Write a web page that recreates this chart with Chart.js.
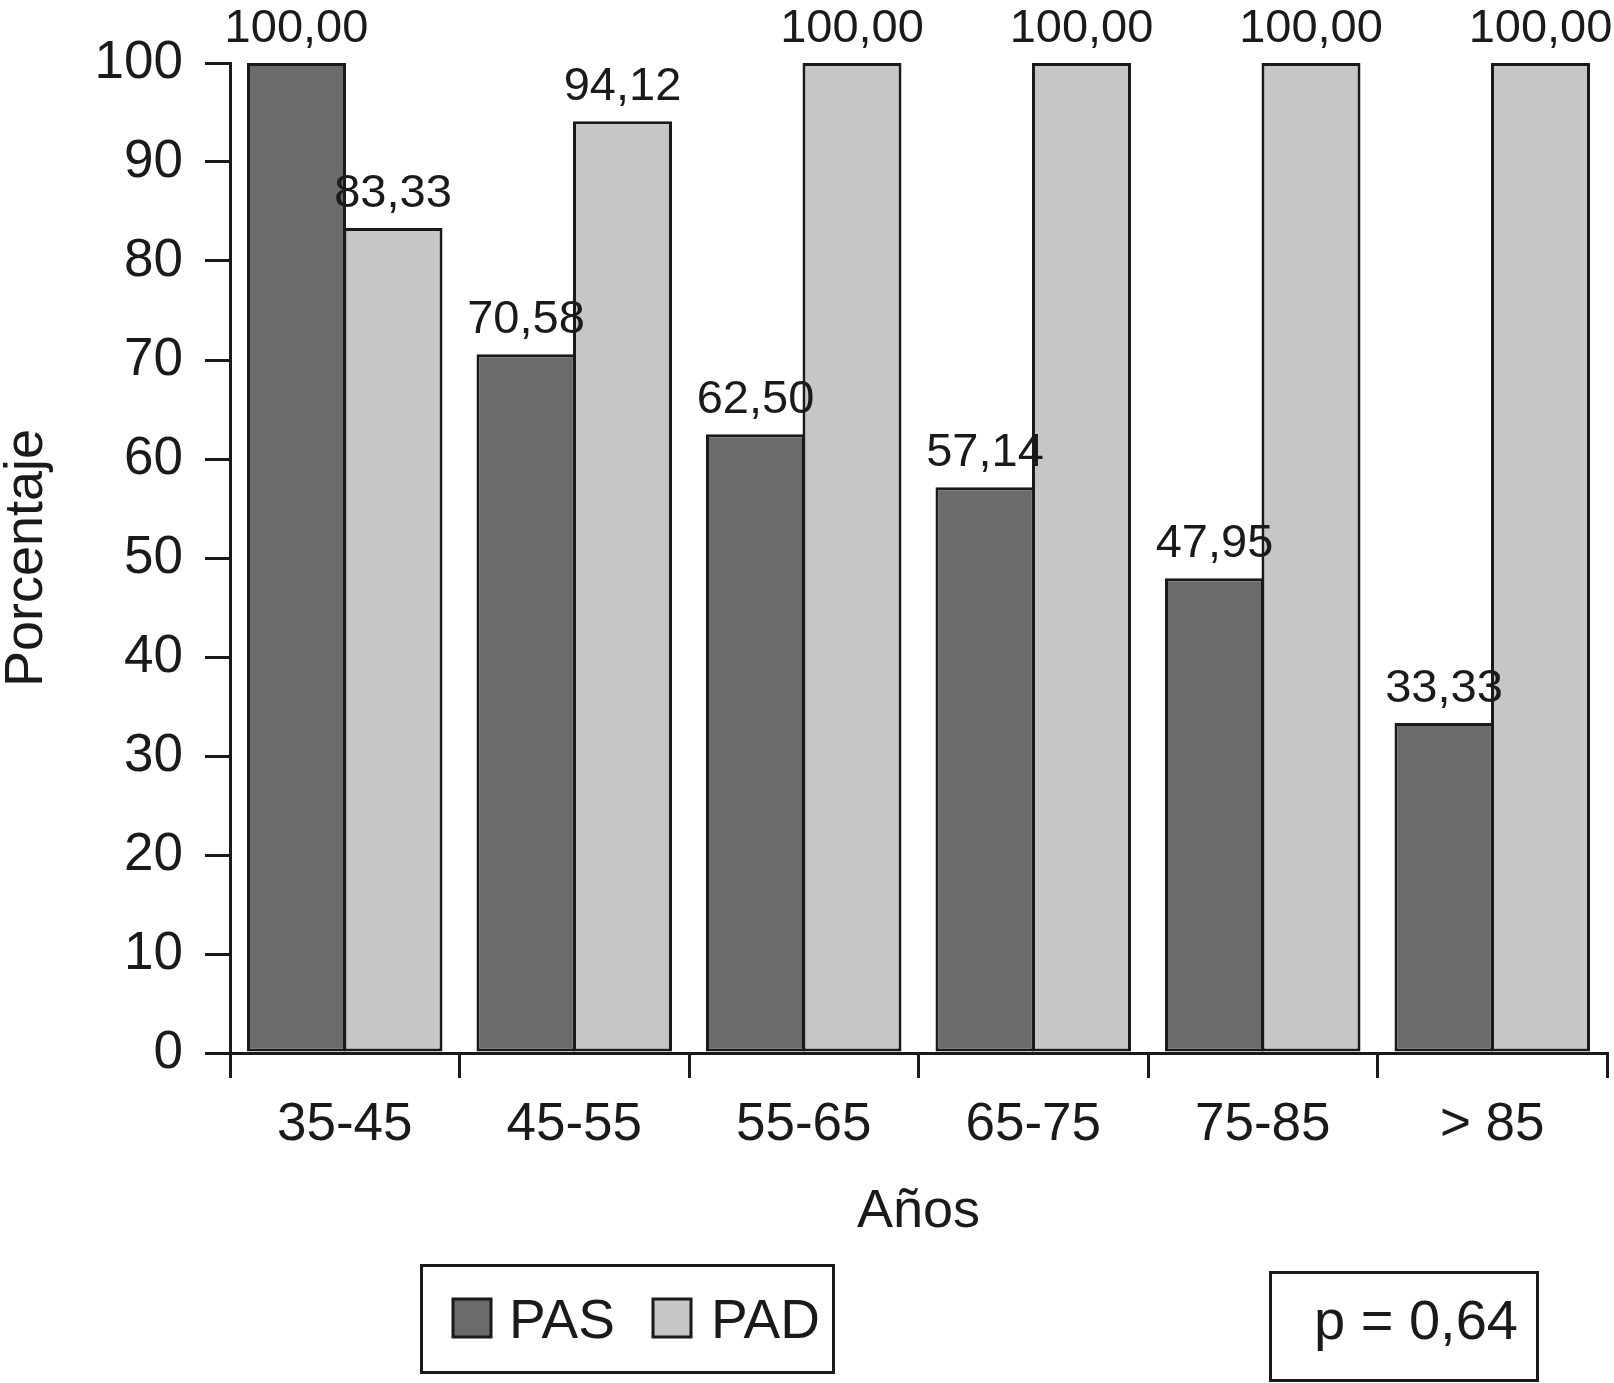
<!DOCTYPE html>
<html>
<head>
<meta charset="utf-8">
<script src="https://cdn.jsdelivr.net/npm/chart.js@4"></script>
<style>
  html, body { margin: 0; padding: 0; background: #ffffff; }
  #wrap { width: 1614px; height: 1383px; position: relative; }
  canvas { display: block; }
</style>
</head>
<body>
<div id="wrap"><canvas id="c" width="1614" height="1383"></canvas></div>
<script>
const categories = ['35-45', '45-55', '55-65', '65-75', '75-85', '> 85'];
const pasValues = [100.00, 70.58, 62.50, 57.14, 47.95, 33.33];
const padValues = [83.33, 94.12, 100.00, 100.00, 100.00, 100.00];
const seriesNames = ['PAS', 'PAD'];
const pValueText = 'p = 0,64';
const xTitle = 'Años';
const yTitle = 'Porcentaje';

const INK = '#1a1a1a';
const FONT = '"Liberation Sans", Arial, Helvetica, sans-serif';

const labelsPlugin = {
  id: 'valueLabels',
  afterDatasetsDraw(chart) {
    const ctx = chart.ctx;
    ctx.save();
    ctx.font = '47px ' + FONT;
    ctx.fillStyle = INK;
    ctx.textAlign = 'center';
    ctx.textBaseline = 'alphabetic';
    chart.data.datasets.forEach((ds, di) => {
      const meta = chart.getDatasetMeta(di);
      meta.data.forEach((bar, i) => {
        const v = ds.data[i];
        const txt = v.toFixed(2).replace('.', ',');
        ctx.fillText(txt, bar.x, bar.y - 21);
      });
    });
    ctx.restore();
  }
};

const boxesPlugin = {
  id: 'legendBoxes',
  afterDraw(chart) {
    const ctx = chart.ctx;
    ctx.save();
    ctx.strokeStyle = INK;
    ctx.lineWidth = 3;
    // legend frame
    ctx.strokeRect(421.5, 1265.5, 412, 107);
    const ds = chart.data.datasets;
    const sq = [[453, 1299], [653, 1299]];
    const tx = [509, 711];
    ctx.font = '55px ' + FONT;
    ctx.textBaseline = 'alphabetic';
    ctx.textAlign = 'left';
    ds.forEach((d, i) => {
      ctx.fillStyle = d.backgroundColor;
      ctx.fillRect(sq[i][0], sq[i][1], 38, 38);
      ctx.strokeRect(sq[i][0], sq[i][1], 38, 38);
      ctx.fillStyle = INK;
      ctx.fillText(d.label, tx[i], 1338);
    });
    // p-value frame
    ctx.strokeRect(1270.5, 1272.5, 267, 108);
    ctx.font = '56px ' + FONT;
    ctx.fillStyle = INK;
    ctx.fillText(pValueText, 1314, 1339);
    ctx.restore();
  }
};

new Chart(document.getElementById('c'), {
  type: 'bar',
  data: {
    labels: categories,
    datasets: [
      { label: seriesNames[0], data: pasValues, backgroundColor: '#6b6b6b', borderColor: INK, borderWidth: 3, borderSkipped: false },
      { label: seriesNames[1], data: padValues, backgroundColor: '#c6c6c6', borderColor: INK, borderWidth: 3, borderSkipped: false }
    ]
  },
  options: {
    responsive: false,
    animation: false,
    devicePixelRatio: 1,
    layout: { padding: { left: 0, top: 63, right: 7, bottom: 0 } },
    datasets: { bar: { categoryPercentage: 0.841, barPercentage: 1.026 } },
    plugins: {
      legend: { display: false },
      tooltip: { enabled: false },
      title: { display: false }
    },
    scales: {
      x: {
        offset: true,
        grid: { display: true, drawOnChartArea: false, drawTicks: true, tickLength: 25, color: INK, lineWidth: 3, offset: true },
        border: { display: true, color: INK, width: 3 },
        ticks: { color: INK, font: { family: FONT, size: 53 }, padding: 16, maxRotation: 0, autoSkip: false },
        title: { display: true, text: xTitle, color: INK, font: { family: FONT, size: 54, lineHeight: 1 }, padding: { top: 0, bottom: 144 } },
        afterFit(s) { s.height = 330; }
      },
      y: {
        min: 0,
        max: 100,
        ticks: { stepSize: 10, color: INK, font: { family: FONT, size: 53 }, padding: 22 },
        grid: { display: true, drawOnChartArea: false, drawTicks: true, tickLength: 25, color: INK, lineWidth: 3 },
        border: { display: true, color: INK, width: 3 },
        title: { display: true, text: yTitle, color: INK, font: { family: FONT, size: 54, lineHeight: 1 }, padding: { top: 0, bottom: 0 } },
        afterFit(s) { s.width = 230; }
      }
    }
  },
  plugins: [labelsPlugin, boxesPlugin]
});
</script>
</body>
</html>
